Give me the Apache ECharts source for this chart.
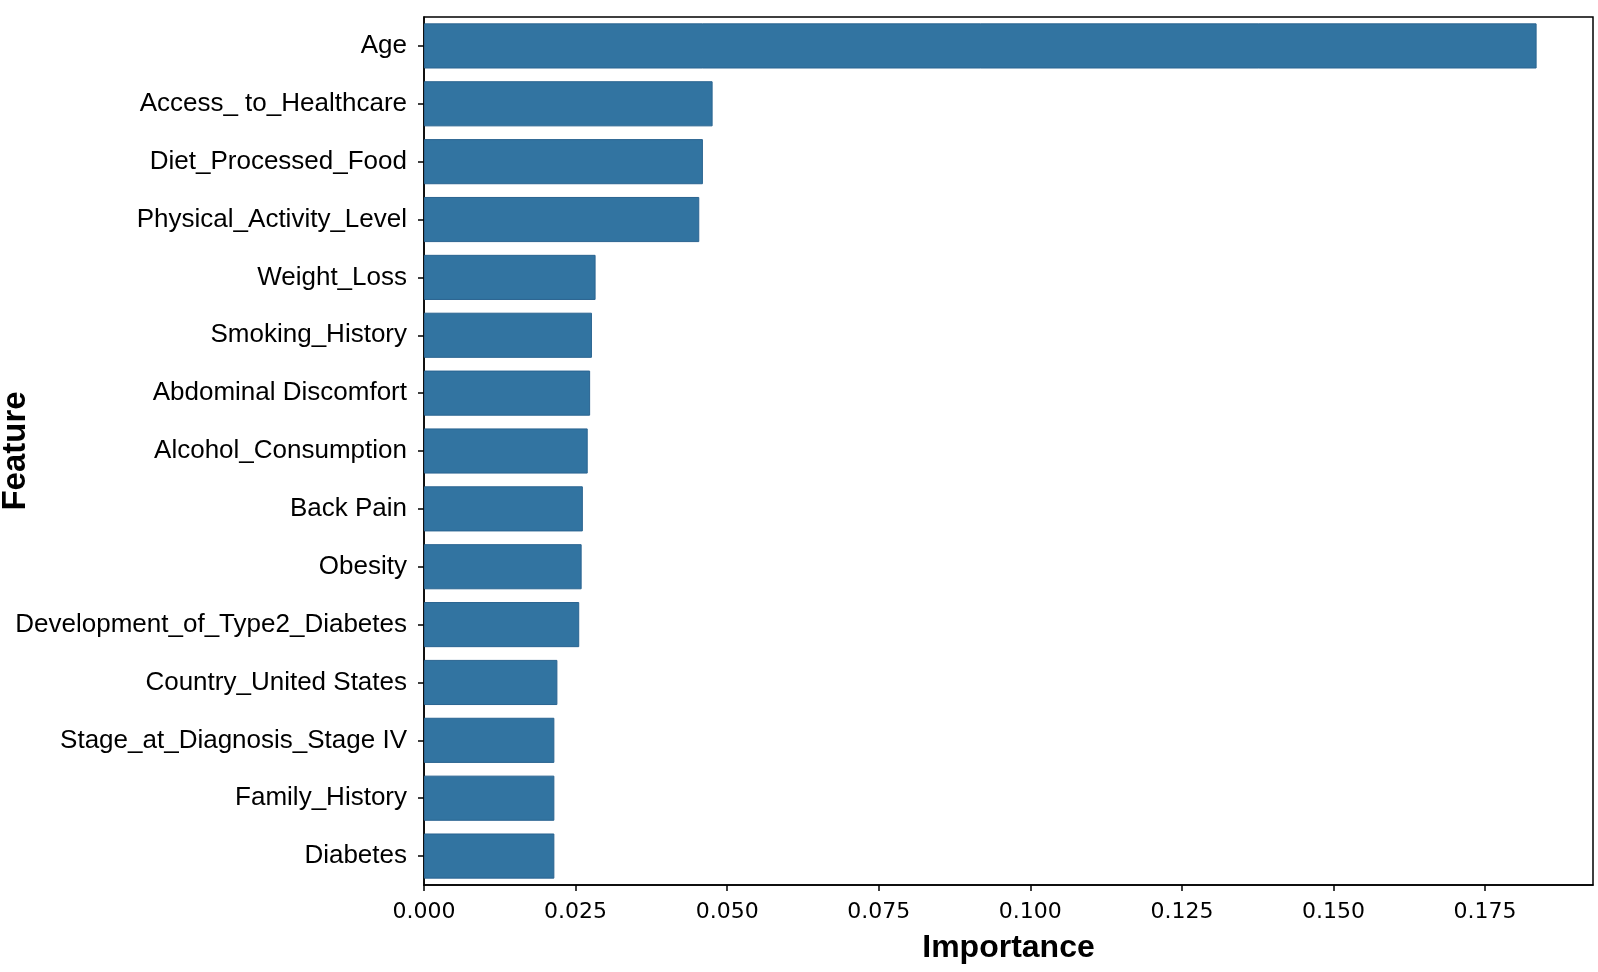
<!DOCTYPE html>
<html>
<head>
<meta charset="utf-8">
<script src="https://cdn.jsdelivr.net/npm/echarts@6/dist/echarts.min.js"></script>
<style>html,body{margin:0;padding:0;background:#fff}#c{width:1598px;height:972px}</style>
</head>
<body>
<div id="c"></div>
<script>
const features = ["Age","Access_ to_Healthcare","Diet_Processed_Food","Physical_Activity_Level","Weight_Loss","Smoking_History","Abdominal Discomfort","Alcohol_Consumption","Back Pain","Obesity","Development_of_Type2_Diabetes","Country_United States","Stage_at_Diagnosis_Stage IV","Family_History","Diabetes"];
const importance = [0.1835,0.0476,0.0460,0.0454,0.0283,0.0277,0.0274,0.0270,0.0262,0.0260,0.0256,0.0220,0.0215,0.0215,0.0215];
const xTicks = [0,0.025,0.05,0.075,0.1,0.125,0.15,0.175];
const xLabel = "Importance";
const yLabel = "Feature";

const chart = echarts.init(document.getElementById('c'));
chart.setOption({
  animation:false,
  grid:{left:424,top:17,right:5,bottom:87,containLabel:false,outerBoundsMode:'none',
    show:true,borderColor:'#000',borderWidth:1.5,backgroundColor:'transparent'},
  xAxis:{type:'value',min:0,max:0.1928,interval:0.025,
    name:xLabel,nameLocation:'middle',nameGap:47,nameMoveOverlap:false,
    nameTextStyle:{fontFamily:'Liberation Sans',fontSize:32,fontWeight:'bold',color:'#000'},
    axisLine:{show:true,lineStyle:{color:'#000',width:1.5}},
    axisTick:{show:true,length:6,lineStyle:{color:'#000',width:1.5}},
    splitLine:{show:false},
    axisLabel:{fontFamily:'DejaVu Sans',fontSize:22,color:'#000',margin:16,
      showMaxLabel:false,
      formatter:function(v){ return xTicks.some(t=>Math.abs(t-v)<1e-9) ? v.toFixed(3) : ''; }}
  },
  yAxis:{type:'category',data:features,inverse:true,
    name:yLabel,nameLocation:'middle',nameGap:392,nameMoveOverlap:false,
    nameTextStyle:{fontFamily:'Liberation Sans',fontSize:33,fontWeight:'bold',color:'#000'},
    axisLine:{show:true,lineStyle:{color:'#000',width:1.5}},
    axisTick:{show:true,alignWithLabel:true,length:6,lineStyle:{color:'#000',width:1.5}},
    axisLabel:{fontFamily:'Liberation Sans',fontSize:26,color:'#000',margin:17}
  },
  series:[{type:'bar',data:importance,barCategoryGap:'22%',
    itemStyle:{color:'#3274a1',borderColor:'#2a6491',borderWidth:1}}]
});
</script>
</body>
</html>
